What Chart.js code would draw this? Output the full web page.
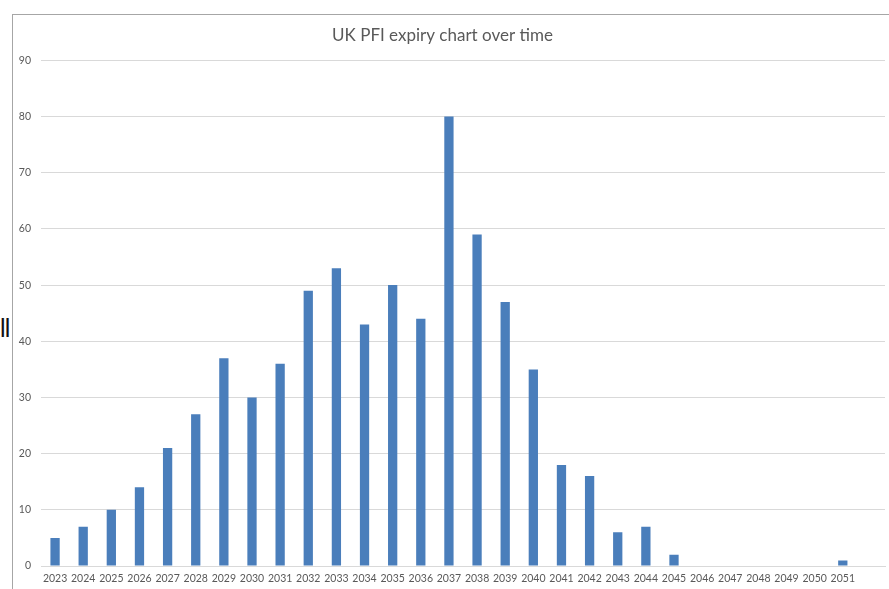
<!DOCTYPE html>
<html>
<head>
<meta charset="utf-8">
<script src="https://cdn.jsdelivr.net/npm/chart.js@4/dist/chart.umd.min.js"></script>
<style>
  html, body { margin: 0; padding: 0; background: #fff; }
  #wrap { position: relative; width: 889px; height: 589px; overflow: hidden; }
  #frame { position: absolute; left: 12px; top: 14px; right: -2px; bottom: -2px;
           border-left: 1.5px solid #a6a6a6; border-top: 1.5px solid #a6a6a6; }
  #stray { position: absolute; left: 0px; top: 316px; font: 25px "Liberation Sans", sans-serif;
           color: #111; line-height: 1; letter-spacing: -0.8px; }
  canvas { position: absolute; left: 0; top: 0; }
</style>
</head>
<body>
<div id="wrap">
  <div id="frame"></div>
  <div id="stray">ll</div>
  <canvas id="c" width="889" height="589"></canvas>
</div>
<script>
// PFI contracts expiring per year
const years = ['2023','2024','2025','2026','2027','2028','2029','2030','2031','2032',
               '2033','2034','2035','2036','2037','2038','2039','2040','2041','2042',
               '2043','2044','2045','2046','2047','2048','2049','2050','2051'];
const expiries = [5, 7, 10, 14, 21, 27, 37, 30, 36, 49,
                  53, 43, 50, 44, 80, 59, 47, 35, 18, 16,
                  6, 7, 2, 0, 0, 0, 0, 0, 1];
const yTicks = { min: 0, max: 90, step: 10 };

// one blank slot keeps empty room on the right of the last year
const labels = years.concat(['']);
const values = expiries.concat([null]);

const textGrey = '#595959';
const font = 'Lato, "Open Sans", "Liberation Sans", sans-serif';

new Chart(document.getElementById('c'), {
  type: 'bar',
  data: {
    labels: labels,
    datasets: [{
      data: values,
      backgroundColor: '#4a7ebb',
      borderWidth: 0,
      barPercentage: 0.33,
      categoryPercentage: 1.0
    }]
  },
  options: {
    responsive: false,
    animation: false,
    devicePixelRatio: 1,
    layout: { padding: { left: 0, right: 4, top: 0, bottom: 0 } },
    plugins: {
      legend: { display: false },
      tooltip: { enabled: false },
      title: {
        display: true,
        text: 'UK PFI expiry chart over time',
        color: textGrey,
        font: { family: font, size: 17, weight: 'normal', lineHeight: 1.2 },
        padding: { top: 25, bottom: 15 }
      }
    },
    scales: {
      x: {
        grid: { display: false, drawTicks: false, tickLength: 0 },
        border: { display: true, color: '#d9d9d9', width: 1 },
        ticks: { color: textGrey, font: { family: font, size: 10.5 }, padding: 6,
                 autoSkip: false, maxRotation: 0 },
        afterFit: s => { s.height = 23; }
      },
      y: {
        min: yTicks.min,
        max: yTicks.max,
        grid: { color: '#d9d9d9', drawTicks: false },
        border: { display: false },
        ticks: { stepSize: yTicks.step, color: textGrey,
                 font: { family: font, size: 10.5 }, padding: 10 },
        afterFit: s => { s.width = 41; }
      }
    }
  }
});
</script>
</body>
</html>
